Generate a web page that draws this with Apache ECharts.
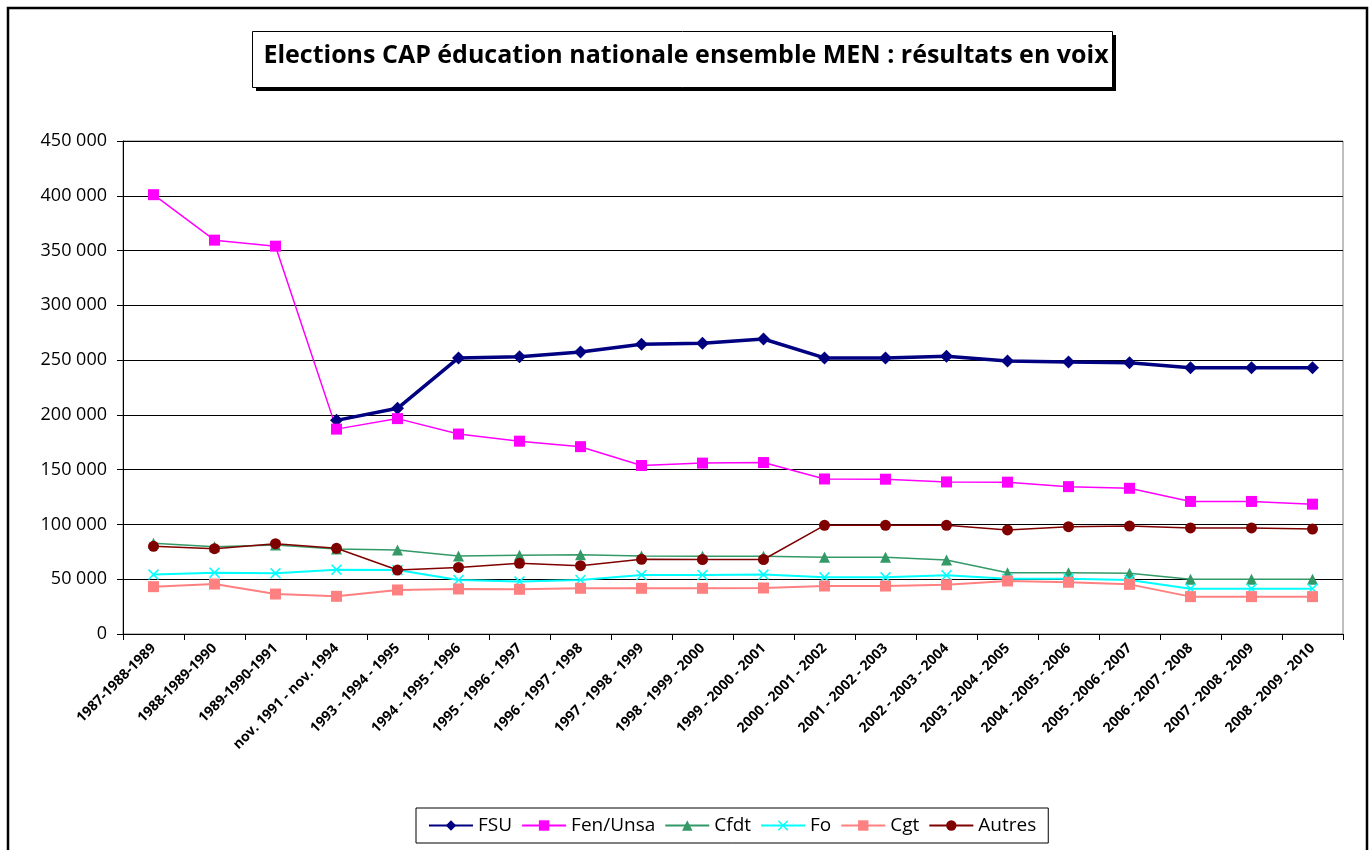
<!DOCTYPE html>
<html>
<head>
<meta charset="utf-8">
<script src="https://cdn.jsdelivr.net/npm/echarts@6/dist/echarts.min.js"></script>
<style>
  html, body { margin: 0; padding: 0; background: #fff; }
  #chart { width: 1372px; height: 850px; }
</style>
</head>
<body>
<div id="chart"></div>
<script>
// Catégories (années d'élection)
const categories = [
  '1987-1988-1989', '1988-1989-1990', '1989-1990-1991', 'nov. 1991 - nov. 1994',
  '1993 - 1994 - 1995', '1994 - 1995 - 1996', '1995 - 1996 - 1997', '1996 - 1997 - 1998',
  '1997 - 1998 - 1999', '1998 - 1999 - 2000', '1999 - 2000 - 2001', '2000 - 2001 - 2002',
  '2001 - 2002 - 2003', '2002 - 2003 - 2004', '2003 - 2004 - 2005', '2004 - 2005 - 2006',
  '2005 - 2006 - 2007', '2006 - 2007 - 2008', '2007 - 2008 - 2009', '2008 - 2009 - 2010'
];

// Résultats en voix
const fsu = [null, null, null, 195000, 206000, 252000, 253000, 257500, 264500, 265500,
  269300, 252000, 252000, 253600, 249100, 248200, 247600, 243000, 243000, 243000];
const fenUnsa = [401000, 359500, 354000, 187000, 196600, 182500, 176000, 171000, 153800, 156000,
  156500, 141500, 141300, 138800, 138600, 134500, 133000, 121000, 121000, 118500];
const cfdt = [82800, 79700, 81200, 77600, 76700, 71200, 71800, 72400, 71200, 71000,
  71000, 70000, 70000, 67500, 56000, 56000, 55500, 50000, 50000, 50000];
const fo = [54200, 56000, 55400, 58700, 58400, 49300, 48000, 49300, 53900, 53900,
  54200, 51700, 51700, 53600, 50500, 50500, 49300, 41400, 41400, 41400];
const cgt = [43200, 45600, 36500, 34400, 40200, 41100, 40800, 41700, 41700, 41700,
  42000, 43800, 43800, 45000, 48400, 47200, 45300, 34100, 34100, 34100];
const autres = [80000, 77900, 82400, 78200, 58400, 60800, 64500, 62400, 68200, 68000,
  68000, 99200, 99200, 99200, 95000, 98000, 98500, 96800, 96800, 95800];

// Croix pour Fo
const crossSymbol = 'path://M0,1 L1,0 L5,4 L9,0 L10,1 L6,5 L10,9 L9,10 L5,6 L1,10 L0,9 L4,5 Z';

const chart = echarts.init(document.getElementById('chart'));

const fmt = v => String(v).replace(/\B(?=(\d{3})+(?!\d))/g, ' ');

const mkSeries = (name, data, color, width, symbol, size) => ({
  name: name,
  type: 'line',
  data: data,
  symbol: symbol,
  symbolSize: size,
  showAllSymbol: true,
  lineStyle: { color: color, width: width },
  itemStyle: { color: color },
  emphasis: { disabled: true },
  animation: false
});

chart.setOption({
  backgroundColor: '#fff',
  textStyle: { fontFamily: 'Open Sans' },
  title: {
    text: 'Elections CAP éducation nationale ensemble MEN : résultats en voix',
    left: 'center',
    top: 43,
    padding: 0,
    z: 10,
    textStyle: {
      fontFamily: 'Open Sans',
      fontSize: 25,
      fontWeight: 'bold',
      color: '#000'
    }
  },
  legend: {
    bottom: 7,
    left: 416,
    padding: [8, 12, 8, 12],
    borderColor: '#000',
    borderWidth: 1,
    itemWidth: 44,
    itemHeight: 13,
    itemGap: 9,
    textStyle: { fontSize: 19, color: '#000', fontFamily: 'Open Sans' },
    data: ['FSU', 'Fen/Unsa', 'Cfdt', 'Fo', 'Cgt', 'Autres']
  },
  grid: {
    left: 123,
    right: 29,
    top: 141,
    bottom: 216,
    show: true,
    borderColor: '#808080',
    borderWidth: 1
  },
  xAxis: {
    type: 'category',
    data: categories,
    boundaryGap: true,
    axisLine: { lineStyle: { color: '#000', width: 1 } },
    axisTick: { show: true, interval: 0, length: 6, lineStyle: { color: '#000' } },
    axisLabel: {
      interval: 0,
      rotate: 45,
      fontSize: 14,
      fontWeight: 'bold',
      color: '#000',
      margin: 12
    }
  },
  yAxis: {
    type: 'value',
    min: 0,
    max: 450000,
    interval: 50000,
    axisLine: { show: true, lineStyle: { color: '#000' } },
    axisTick: { show: true, length: 6, lineStyle: { color: '#000' } },
    splitLine: { lineStyle: { color: '#000', width: 1 } },
    axisLabel: {
      fontSize: 18,
      color: '#000',
      margin: 16,
      formatter: fmt
    }
  },
  graphic: [
    {
      type: 'rect',
      z: 1,
      shape: { x: 256, y: 35, width: 860, height: 56 },
      style: { fill: '#000' },
      silent: true
    },
    {
      type: 'rect',
      z: 2,
      shape: { x: 252.5, y: 31.5, width: 860, height: 56 },
      style: { fill: '#fff', stroke: '#000', lineWidth: 1 },
      silent: true
    },
    {
      type: 'rect',
      z: 100,
      shape: { x: 8, y: 8, width: 1359, height: 870 },
      style: { fill: 'none', stroke: '#000', lineWidth: 2.5 },
      silent: true
    }
  ],
  series: [
    mkSeries('FSU', fsu, '#000080', 3.5, 'diamond', 13),
    mkSeries('Fen/Unsa', fenUnsa, '#FF00FF', 1.5, 'rect', 11),
    mkSeries('Cfdt', cfdt, '#339966', 1.5, 'triangle', 11),
    mkSeries('Fo', fo, '#00FFFF', 2, crossSymbol, 11),
    mkSeries('Cgt', cgt, '#FF8080', 2, 'rect', 11),
    mkSeries('Autres', autres, '#800000', 1.5, 'circle', 11)
  ]
});
</script>
</body>
</html>
